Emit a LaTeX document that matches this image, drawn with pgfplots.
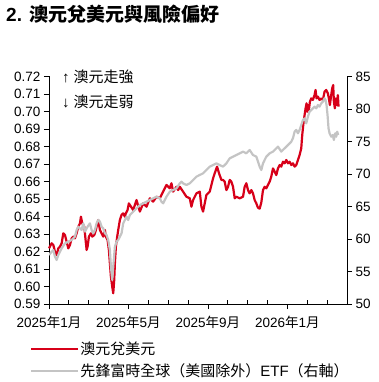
\documentclass[border=0pt]{standalone}
\usepackage{pgfplots}
\pgfplotsset{compat=1.18}
\usepackage{fontspec}
\setmainfont{Liberation Sans}
\newfontfamily\cjk{Noto Sans CJK TC}
\definecolor{audred}{RGB}{215,0,25}
\definecolor{etfgray}{RGB}{196,196,196}
\begin{document}
\begin{tikzpicture}
\useasboundingbox (0pt,0pt) rectangle (379pt,382pt);
\node[anchor=west, inner sep=0pt, font=\fontsize{19}{19}\selectfont\bfseries] at (6pt,368pt) {2. {\cjk\bfseries 澳元兌美元與風險偏好}};
\begin{axis}[
  at={(49pt,78pt)}, anchor=south west,
  width=298pt, height=227.5pt, scale only axis,
  xmin=0, xmax=15, ymin=0.59, ymax=0.72,
  axis x line*=bottom, axis y line*=left,
  axis line style={-, black, line width=0.8pt},
  tick style={black, line width=0.8pt},
  tick align=outside, major tick length=5pt, minor tick length=4pt,
  every minor x tick/.append style={yshift=4pt},
  xtick={0,4,8,12},
  minor xtick={1,2,3,5,6,7,9,10,11,13,14,15},
  xticklabels={2025{\cjk 年}1{\cjk 月},2025{\cjk 年}5{\cjk 月},2025{\cjk 年}9{\cjk 月},2026{\cjk 年}1{\cjk 月}},
  xticklabel style={yshift=-4pt},
  ytick={0.59,0.60,0.61,0.62,0.63,0.64,0.65,0.66,0.67,0.68,0.69,0.70,0.71,0.72},
  yticklabel style={/pgf/number format/.cd, fixed, fixed zerofill, precision=2, assume math mode=true},
  ticklabel style={font=\fontsize{13.5}{13.5}\selectfont},
  legend style={at={(axis description cs:-0.064,-0.160)}, anchor=north west, draw=none, fill=none,
    font=\fontsize{15}{15}\selectfont, inner sep=0pt, row sep=6pt,
    nodes={inner sep=1pt}},
  legend cell align=left,
  legend image code/.code={\draw[#1] (0pt,0pt) -- (47pt,0pt);},
  clip=false,
]
\addplot[audred, line width=2.2pt, line join=round] coordinates {
(0.000,0.6218)(0.134,0.6247)(0.218,0.6237)(0.300,0.6199)(0.385,0.6180)(0.469,0.6218)
(0.553,0.6228)(0.637,0.6247)(0.720,0.6304)(0.804,0.6294)(0.888,0.6256)(0.971,0.6218)
(1.055,0.6237)(1.139,0.6275)(1.223,0.6285)(1.307,0.6275)(1.390,0.6304)(1.474,0.6342)
(1.558,0.6361)(1.608,0.6399)(1.675,0.6361)(1.775,0.6342)(1.842,0.6266)(1.893,0.6209)
(1.943,0.6228)(2.010,0.6285)(2.110,0.6304)(2.177,0.6285)(2.278,0.6294)(2.362,0.6323)
(2.429,0.6361)(2.479,0.6380)(2.563,0.6323)(2.647,0.6304)(2.730,0.6285)(2.814,0.6323)
(2.864,0.6285)(2.948,0.6266)(3.015,0.6209)(3.065,0.6132)(3.116,0.6056)(3.183,0.5999)
(3.233,0.5961)(3.283,0.6037)(3.317,0.6132)(3.367,0.6228)(3.434,0.6285)(3.484,0.6323)
(3.568,0.6380)(3.652,0.6409)(3.735,0.6418)(3.819,0.6399)(3.869,0.6418)(3.953,0.6437)
(4.020,0.6475)(4.070,0.6466)
(4.238,0.6437)(4.405,0.6494)(4.573,0.6428)(4.740,0.6475)(4.908,0.6456)(5.075,0.6504)
(5.243,0.6485)(5.410,0.6513)(5.578,0.6504)(5.745,0.6542)(5.913,0.6580)(6.080,0.6561)
(6.164,0.6590)(6.248,0.6542)(6.415,0.6570)(6.499,0.6551)(6.583,0.6570)(6.750,0.6542)
(6.918,0.6513)(7.085,0.6504)(7.169,0.6456)(7.253,0.6494)(7.420,0.6532)(7.588,0.6542)
(7.672,0.6456)(7.755,0.6428)(7.923,0.6523)(8.090,0.6542)(8.258,0.6618)(8.342,0.6647)
(8.459,0.6685)(8.559,0.6647)(8.677,0.6609)(8.760,0.6609)(8.844,0.6599)(8.928,0.6551)
(9.012,0.6570)(9.095,0.6609)(9.179,0.6599)(9.263,0.6570)(9.347,0.6504)(9.430,0.6513)
(9.598,0.6504)
(9.766,0.6513)(9.849,0.6570)(9.933,0.6590)(10.017,0.6551)(10.101,0.6532)(10.184,0.6551)
(10.268,0.6532)(10.352,0.6494)(10.436,0.6475)(10.519,0.6450)(10.603,0.6445)(10.687,0.6480)
(10.771,0.6551)(10.854,0.6570)(10.938,0.6561)(11.106,0.6599)(11.189,0.6628)(11.273,0.6675)
(11.357,0.6656)(11.441,0.6637)(11.525,0.6675)(11.608,0.6694)(11.692,0.6685)(11.776,0.6713)
(11.860,0.6704)(11.943,0.6723)(12.027,0.6704)(12.111,0.6713)(12.195,0.6694)(12.278,0.6704)
(12.362,0.6685)(12.446,0.6694)(12.530,0.6723)(12.613,0.6751)(12.697,0.6790)(12.747,0.6866)
(12.798,0.6923)(12.865,0.6980)(12.915,0.7018)(12.965,0.7047)(12.999,0.6999)(13.032,0.7037)
(13.082,0.7009)(13.133,0.7056)(13.200,0.7075)(13.283,0.7066)(13.367,0.7094)(13.417,0.7123)
(13.468,0.7075)(13.535,0.7085)(13.618,0.7066)(13.702,0.7075)(13.786,0.7066)(13.870,0.7113)
(13.953,0.7123)(14.037,0.7104)(14.087,0.7075)(14.138,0.7037)(14.205,0.7094)(14.255,0.7132)
(14.305,0.7151)(14.339,0.7056)(14.389,0.7018)(14.440,0.7075)(14.490,0.7037)(14.540,0.7094)
(14.573,0.7028)
};
\addlegendentry{{\cjk 澳元兌美元}}
\addlegendimage{etfgray, line width=2.2pt}
\addlegendentry{{\cjk 先鋒富時全球（美國除外）}ETF{\cjk （右軸）}}
\node[anchor=west, inner sep=0pt, font=\fontsize{15}{15}\selectfont] at (axis description cs:0.043,1.0) {↑ {\cjk 澳元走強}};
\node[anchor=west, inner sep=0pt, font=\fontsize{15}{15}\selectfont] at (axis description cs:0.043,0.89) {↓ {\cjk 澳元走弱}};
\end{axis}
\begin{axis}[
  at={(49pt,78pt)}, anchor=south west,
  width=298pt, height=227.5pt, scale only axis,
  xmin=0, xmax=15, ymin=50, ymax=85,
  axis x line=none, axis y line*=right,
  axis line style={-, black, line width=0.8pt},
  tick style={black, line width=0.8pt},
  tick align=outside, major tick length=5pt,
  ytick={50,55,60,65,70,75,80,85},
  ticklabel style={font=\fontsize{13.5}{13.5}\selectfont},
  yticklabel style={/pgf/number format/assume math mode=true},
]
\addplot[etfgray, line width=2.2pt, line join=round] coordinates {
(0.000,57.54)(0.134,58.05)(0.218,58.31)(0.300,57.28)(0.385,56.77)(0.469,57.54)
(0.637,58.56)(0.804,59.33)(0.971,59.59)(1.139,59.85)(1.307,60.36)(1.390,61.38)
(1.474,61.90)(1.642,61.38)(1.725,62.41)(1.809,61.13)(1.943,61.90)(2.060,62.41)
(2.144,61.38)(2.228,60.87)(2.312,61.38)(2.395,62.41)(2.479,62.92)(2.563,62.67)
(2.647,61.90)(2.730,61.64)(2.814,60.87)(2.898,60.62)(2.982,59.85)(3.065,58.31)
(3.116,55.74)(3.183,53.69)(3.233,55.74)(3.317,58.82)(3.400,59.59)(3.484,59.85)
(3.568,60.36)(3.652,60.87)(3.735,62.41)(3.819,62.92)(3.903,63.44)(3.987,62.92)
(4.070,63.70)
(4.238,64.20)(4.405,64.72)(4.573,65.23)(4.740,65.49)(4.908,65.74)(5.075,66.00)
(5.243,66.26)(5.410,66.51)(5.578,66.26)(5.661,65.74)(5.745,65.49)(5.913,66.51)
(6.080,67.28)(6.248,67.54)(6.415,67.79)(6.583,68.56)(6.666,68.82)(6.750,68.56)
(6.918,68.31)(7.085,68.56)(7.253,69.08)(7.420,69.59)(7.588,69.85)(7.755,70.10)
(7.923,70.62)(8.090,71.13)(8.258,71.38)(8.426,71.64)(8.593,71.38)(8.760,71.13)
(8.928,71.64)(9.095,72.41)(9.263,72.67)(9.430,72.92)(9.598,73.18)
(9.766,73.44)(9.933,73.18)(10.101,73.69)(10.268,72.92)(10.436,72.67)(10.603,71.13)
(10.687,70.62)(10.771,71.64)(10.938,72.67)(11.106,73.18)(11.273,73.44)
(11.357,73.69)(11.525,74.21)(11.692,73.44)(11.860,73.95)(12.027,74.46)(12.195,74.97)
(12.278,75.49)(12.362,76.51)(12.446,76.77)(12.530,76.26)(12.613,76.77)(12.697,77.54)
(12.781,78.31)(12.865,78.56)(12.948,77.79)(13.032,78.82)(13.116,79.59)(13.200,79.85)
(13.283,80.10)(13.367,80.36)(13.451,80.10)(13.535,80.62)(13.618,80.36)(13.702,80.87)
(13.786,81.13)(13.870,81.64)(13.920,81.38)(13.970,80.62)(14.020,79.08)(14.070,77.03)
(14.121,76.26)(14.205,75.74)(14.288,76.00)(14.339,75.23)(14.406,76.26)(14.456,75.74)
(14.506,76.51)(14.556,76.00)
};
\end{axis}
\end{tikzpicture}
\end{document}
